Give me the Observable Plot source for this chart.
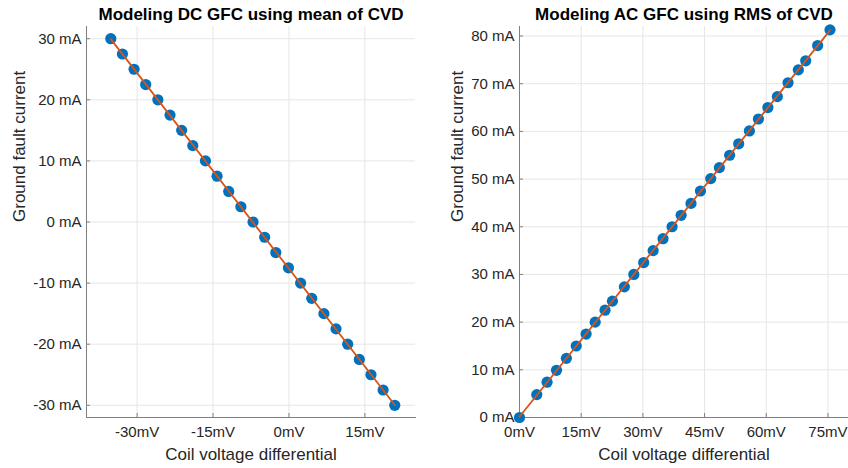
<!DOCTYPE html>
<html>
<head>
<meta charset="utf-8">
<script src="https://cdn.jsdelivr.net/npm/d3@7"></script>
<script src="https://cdn.jsdelivr.net/npm/@observablehq/plot@0.6"></script>
<style>
  html, body { margin: 0; padding: 0; background: #fff; }
  #charts { display: flex; width: 848px; height: 468px; }
  #charts svg { overflow: visible; }
</style>
</head>
<body>
<div id="charts"></div>
<script>
// DC model: mean coil voltage differential (mV) vs ground fault current (mA)
const dcVoltage = [-35.2, -32.9, -30.6, -28.3, -25.9, -23.5, -21.2, -19.0, -16.5, -14.2, -11.9, -9.5, -7.1,
                   -4.8, -2.6, -0.1, 2.3, 4.5, 6.9, 9.3, 11.6, 13.9, 16.2, 18.6, 20.9];
const dcCurrent = [30, 27.5, 25, 22.5, 20, 17.5, 15, 12.5, 10, 7.5, 5, 2.5, 0,
                   -2.5, -5, -7.5, -10, -12.5, -15, -17.5, -20, -22.5, -25, -27.5, -30];

// AC model: RMS coil voltage differential (mV) vs ground fault current (mA)
const acVoltage = [0, 4.2, 6.7, 9.0, 11.4, 13.8, 16.2, 18.4, 20.8, 22.6, 25.5, 27.8, 30.2, 32.5, 34.9, 37.1,
                   39.3, 41.7, 44.0, 46.5, 48.6, 51.1, 53.3, 55.9, 58.1, 60.4, 62.7, 65.3, 67.8, 69.6, 72.5, 75.5];
const acCurrent = [0, 4.8, 7.4, 9.9, 12.4, 15.0, 17.5, 20.0, 22.5, 24.4, 27.4, 30.0, 32.5, 35.0, 37.5, 40.0,
                   42.4, 44.9, 47.5, 50.1, 52.4, 55.0, 57.4, 60.1, 62.6, 65.0, 67.3, 70.2, 72.9, 74.8, 78.0, 81.3];

// Axis ticks
const dcXTicks = [-30, -15, 0, 15];
const dcYTicks = [-30, -20, -10, 0, 10, 20, 30];
const acXTicks = [0, 15, 30, 45, 60, 75];
const acYTicks = [0, 10, 20, 30, 40, 50, 60, 70, 80];

const FONT = '"Liberation Sans", Arial, Helvetica, sans-serif';
const TEXT = "#262626";
const AXIS = "#808080";
const GRID = "#e6e6e6";
const BLUE = "#0072BD";
const ORANGE = "#D95319";

function panel({title, xs, ys, xDomain, yDomain, xTicks, yTicks, margins, yLabelDx}) {
  const data = xs.map((x, i) => ({x, y: ys[i]}));
  return Plot.plot({
    width: 424,
    height: 468,
    ...margins,
    style: {fontFamily: FONT, fontSize: "15px", color: TEXT, background: "#fff"},
    x: {domain: xDomain},
    y: {domain: yDomain},
    marks: [
      Plot.gridX(xTicks, {stroke: GRID, strokeOpacity: 1}),
      Plot.gridY(yTicks, {stroke: GRID, strokeOpacity: 1}),
      Plot.axisX({ticks: xTicks, tickSize: 0, tickPadding: 9, tickFormat: d => `${d}mV`, label: null, fill: TEXT, fontSize: 15}),
      Plot.axisY({ticks: yTicks, tickSize: 0, tickPadding: 5, tickFormat: d => `${d} mA`, label: null, fill: TEXT, fontSize: 15}),
      Plot.axisX({ticks: xTicks, tickSize: -4, tickFormat: () => "", label: null, stroke: AXIS}),
      Plot.axisY({ticks: yTicks, tickSize: -4, tickFormat: () => "", label: null, stroke: AXIS}),
      Plot.frame({anchor: "left", stroke: AXIS}),
      Plot.frame({anchor: "bottom", stroke: AXIS}),
      Plot.dot(data, {x: "x", y: "y", r: 5.6, fill: BLUE, stroke: null}),
      Plot.linearRegressionY(data, {x: "x", y: "y", ci: 0, stroke: ORANGE, strokeWidth: 1.8}),
      Plot.text([title], {frameAnchor: "top", dy: -19, fontWeight: "bold", fontSize: 17, fill: "#000"}),
      Plot.text(["Coil voltage differential"], {frameAnchor: "bottom", dy: 42, fontSize: 17, fill: TEXT}),
      Plot.text(["Ground fault current"], {frameAnchor: "left", dx: yLabelDx, rotate: -90, fontSize: 17, fill: TEXT})
    ]
  });
}

const charts = document.getElementById("charts");
charts.append(panel({
  title: "Modeling DC GFC using mean of CVD",
  xs: dcVoltage, ys: dcCurrent,
  xDomain: [-40, 25], yDomain: [-32, 32],
  xTicks: dcXTicks, yTicks: dcYTicks,
  margins: {marginLeft: 86, marginRight: 9, marginTop: 26, marginBottom: 51},
  yLabelDx: -67
}));
charts.append(panel({
  title: "Modeling AC GFC using RMS of CVD",
  xs: acVoltage, ys: acCurrent,
  xDomain: [0, 80], yDomain: [0, 82],
  xTicks: acXTicks, yTicks: acYTicks,
  margins: {marginLeft: 95, marginRight: 0, marginTop: 26, marginBottom: 51},
  yLabelDx: -62
}));
</script>
</body>
</html>
